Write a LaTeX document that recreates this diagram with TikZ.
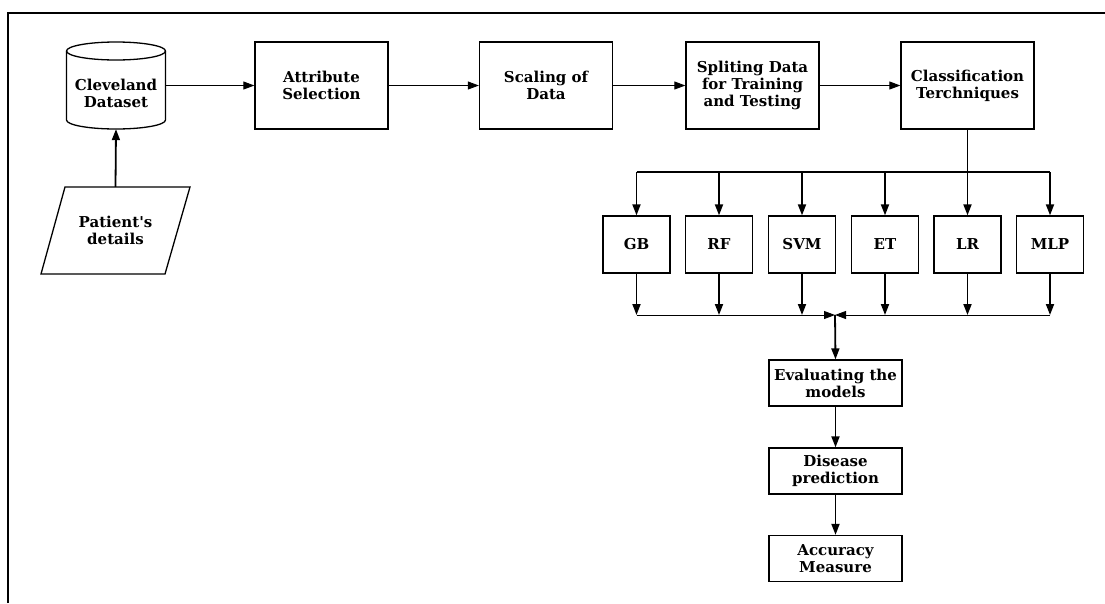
\documentclass[tikz,border=0pt]{standalone}
\usepackage{fontspec}
\setmainfont{DejaVu Serif}
\usetikzlibrary{arrows.meta,calc}
\tikzset{
  box/.style={draw, line width=1.3pt, align=center, inner sep=0pt,
    font=\fontsize{15}{17}\selectfont\bfseries},
  plain/.style={draw=none, align=center, inner sep=0pt,
    font=\fontsize{15}{17}\selectfont\bfseries},
  harrow/.style={line width=0.9pt, -{Triangle[length=11pt,width=8pt]}},
  varrow/.style={line width=1.8pt, -{Triangle[length=11pt,width=8pt]}},
  vline/.style={line width=1.6pt},
}
\begin{document}
\begin{tikzpicture}[x=1pt,y=-1pt]
\useasboundingbox (0,0) rectangle (1105,603);
% frame
\draw[line width=2pt] (8,603) -- (8,13) -- (1105,13);

% cylinder
\node[plain, minimum width=99pt, minimum height=87pt] (cle) at (116,85.5) {};
\node[plain] (cletext) at (116,93) {Cleveland\\Dataset};
\draw[line width=1.3pt] (66.5,51) -- (66.5,120) arc[start angle=180,end angle=360,x radius=49.5pt,y radius=9pt] -- (165.5,51);
\draw[line width=1.3pt] (116,51) ellipse [x radius=49.5pt, y radius=9pt];

% parallelogram
\node[plain, minimum width=100pt, minimum height=87pt] (pat) at (115.5,230.5) {Patient\textquotesingle s\\details};
\draw[line width=1.3pt] (65,187) -- (190,187) -- (165,274) -- (41,274) -- cycle;

% top row
\node[box, minimum width=133pt, minimum height=87pt] (attr) at (321.5,85.5) {Attribute\\Selection};
\node[box, minimum width=133pt, minimum height=87pt] (scal) at (546,85.5) {Scaling of\\Data};
\node[box, minimum width=133pt, minimum height=87pt] (split) at (752.5,85.5) {Spliting Data\\for Training\\and Testing};
\node[box, minimum width=133pt, minimum height=87pt] (cls) at (967.5,85.5) {Classification\\Terchniques};

\draw[harrow] (cle.east) -- (attr.west);
\draw[harrow] (attr.east) -- (scal.west);
\draw[harrow] (scal.east) -- (split.west);
\draw[harrow] (split.east) -- (cls.west);
\draw[varrow] (pat.north) -- (cle.south);

% models
\foreach \n/\t/\x in {gb/GB/636.5, rf/RF/719, svm/SVM/802, et/ET/885, lr/LR/967.5, mlp/MLP/1050}{
  \node[box, minimum width=67pt, minimum height=57pt] (\n) at (\x,244.5) {\t};
}
\coordinate (bus) at (967.5,172);
\draw[vline] (cls.south) -- (bus);
\draw[vline] (gb.north |- bus) -- (mlp.north |- bus);
\foreach \n in {gb,rf,svm,et,lr,mlp}{
  \draw[varrow] (\n.north |- bus) -- (\n.north);
}

\coordinate (m) at (835,315);
\foreach \n in {gb,rf,svm,et,lr,mlp}{
  \draw[varrow] (\n.south) -- (\n.south |- m);
}
\draw[harrow] (gb.south |- m) -- (m);
\draw[harrow] (mlp.south |- m) -- (m);

% bottom column
\node[box, minimum width=133pt, minimum height=46pt] (eval) at (835.5,383) {Evaluating the\\models};
\node[box, minimum width=133pt, minimum height=46pt] (dis) at (835.5,471) {Disease\\prediction};
\node[box, minimum width=133pt, minimum height=46pt] (acc) at (835.5,558.5) {Accuracy\\Measure};
\draw[varrow] (m) -- (eval.north);
\draw[varrow] (eval.south) -- (dis.north);
\draw[varrow] (dis.south) -- (acc.north);
\end{tikzpicture}
\end{document}
